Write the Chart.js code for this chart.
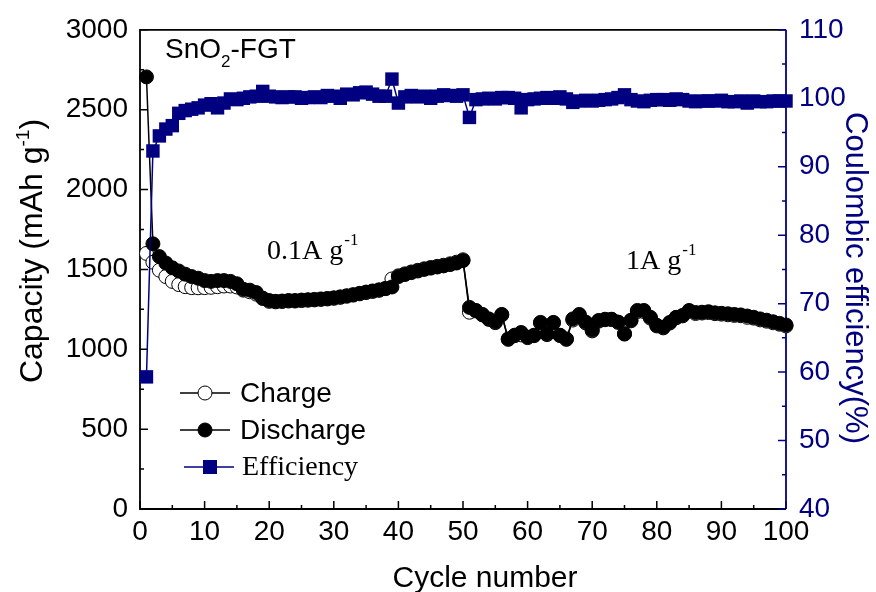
<!DOCTYPE html>
<html>
<head>
<meta charset="utf-8">
<script src="https://cdn.jsdelivr.net/npm/chart.js@4/dist/chart.umd.min.js"></script>
<style>
  html, body { margin: 0; padding: 0; background: #fff; }
  #wrap { width: 876px; height: 592px; }
</style>
</head>
<body>
<div id="wrap"><canvas id="c" width="876" height="592"></canvas></div>
<script>
// Cycle index (1 … 100)
const cycles = Array.from({ length: 100 }, (_, i) => i + 1);

// Charge capacity, mAh g-1
const charge = [
  1600, 1545, 1495, 1455, 1425, 1405, 1392, 1386, 1385, 1386,
  1388, 1392, 1396, 1396, 1390, 1370, 1360, 1345, 1318, 1300,
  1297, 1299, 1302, 1302, 1305, 1307, 1309, 1312, 1315, 1319,
  1325, 1332, 1339, 1347, 1355, 1362, 1369, 1380, 1440, 1460,
  1472, 1484, 1494, 1504, 1512, 1519, 1526, 1535, 1545, 1560,
  1232, 1240, 1215, 1187, 1167, 1215, 1062, 1085, 1090, 1073,
  1085, 1165, 1092, 1165, 1086, 1062, 1183, 1212, 1165, 1115,
  1176, 1185, 1186, 1169, 1098, 1178, 1236, 1236, 1195, 1146,
  1134, 1164, 1197, 1209, 1238, 1224, 1227, 1230, 1223, 1220,
  1216, 1212, 1210, 1200, 1195, 1184, 1176, 1166, 1157, 1146
];

// Discharge capacity, mAh g-1
const discharge = [
  2705, 1660, 1580, 1540, 1510, 1490, 1470, 1455, 1445, 1430,
  1425, 1430, 1430, 1425, 1410, 1375, 1370, 1355, 1320, 1305,
  1300, 1302, 1305, 1305, 1308, 1310, 1312, 1315, 1318, 1322,
  1328, 1335, 1342, 1350, 1358, 1365, 1372, 1380, 1390, 1455,
  1468, 1480, 1490, 1500, 1508, 1515, 1522, 1530, 1540, 1555,
  1262, 1243, 1218, 1190, 1170, 1218, 1065, 1088, 1105, 1076,
  1088, 1168, 1095, 1168, 1088, 1065, 1190, 1218, 1170, 1120,
  1180, 1188, 1188, 1170, 1095, 1182, 1243, 1243, 1200, 1150,
  1138, 1168, 1200, 1212, 1243, 1230, 1232, 1235, 1228, 1225,
  1222, 1218, 1215, 1208, 1200, 1190, 1182, 1172, 1162, 1152
];

// Coulombic efficiency, %
const efficiency = [
  59.3, 92.3, 94.5, 95.5, 96.0, 97.8, 98.2, 98.4, 98.6, 99.0,
  99.2, 98.6, 99.3, 99.9, 99.8, 100.0, 100.2, 100.3, 101.0, 100.3,
  100.2, 100.1, 100.2, 100.2, 100.0, 100.1, 100.2, 100.1, 100.4, 100.3,
  100.0, 100.6, 100.5, 100.8, 100.9, 100.6, 100.3, 100.3, 102.8, 99.3,
  100.2, 100.4, 100.2, 100.3, 100.0, 100.3, 100.5, 100.4, 100.3, 100.5,
  97.2, 99.8, 99.9, 100.0, 99.9, 100.1, 100.1, 100.0, 98.6, 99.8,
  99.9, 100.0, 100.1, 100.0, 100.2, 99.9, 99.4, 99.6, 99.7, 99.6,
  99.7, 99.8, 99.9, 100.1, 100.5, 99.8, 99.6, 99.5, 99.7, 99.8,
  99.8, 99.7, 99.9, 99.8, 99.6, 99.5, 99.6, 99.6, 99.6, 99.7,
  99.5, 99.5, 99.6, 99.3, 99.6, 99.5, 99.5, 99.6, 99.6, 99.6
];

// Axis ticks
const xTicks = [0, 10, 20, 30, 40, 50, 60, 70, 80, 90, 100];
const capTicks = [0, 500, 1000, 1500, 2000, 2500, 3000];
const effTicks = [40, 50, 60, 70, 80, 90, 100, 110];

const NAVY = '#000080';
const SANS = "'Liberation Sans', Arial, sans-serif";
const SERIF = "'Liberation Serif', 'Times New Roman', serif";

const pts = (ys) => cycles.map((c, i) => ({ x: c, y: ys[i] }));

// Frame, inward tick marks (major + minor), titles, notes and legend
const framePlugin = {
  id: 'frame',
  beforeDatasetsDraw(chart) {
    const { ctx, chartArea: a, scales } = chart;
    const sx = scales.x, sl = scales.y, sr = scales.y1;
    ctx.save();
    ctx.lineCap = 'butt';
    ctx.lineWidth = 1.8;
    ctx.strokeStyle = '#000';
    ctx.beginPath();
    ctx.moveTo(a.right, a.top); ctx.lineTo(a.left, a.top);
    ctx.lineTo(a.left, a.bottom); ctx.lineTo(a.right, a.bottom);
    ctx.stroke();

    ctx.lineWidth = 1.5;
    ctx.beginPath();
    for (let v = 0; v <= 100; v += 5) {
      const px = sx.getPixelForValue(v);
      const len = v % 10 === 0 ? 8 : 4;
      ctx.moveTo(px, a.bottom); ctx.lineTo(px, a.bottom - len);
    }
    for (let v = 0; v <= 3000; v += 250) {
      const py = sl.getPixelForValue(v);
      const len = v % 500 === 0 ? 8 : 4;
      ctx.moveTo(a.left, py); ctx.lineTo(a.left + len, py);
    }
    ctx.stroke();

    ctx.strokeStyle = NAVY;
    ctx.lineWidth = 1.8;
    ctx.beginPath();
    ctx.moveTo(a.right, a.top); ctx.lineTo(a.right, a.bottom);
    ctx.stroke();
    ctx.lineWidth = 1.5;
    ctx.beginPath();
    for (let v = 40; v <= 110; v += 5) {
      const py = sr.getPixelForValue(v);
      const len = v % 10 === 0 ? 8 : 4;
      ctx.moveTo(a.right, py); ctx.lineTo(a.right - len, py);
    }
    ctx.stroke();
    ctx.restore();
  },
  afterDraw(chart) {
    const { ctx } = chart;
    ctx.save();
    ctx.textBaseline = 'alphabetic';

    // Bottom title
    ctx.fillStyle = '#000';
    ctx.font = `30px ${SANS}`;
    ctx.textAlign = 'center';
    ctx.fillText('Cycle number', 485, 587);

    // Left title with superscript
    ctx.save();
    ctx.translate(42, 251);
    ctx.rotate(-Math.PI / 2);
    const t1 = 'Capacity (mAh g', sup = '-1', t2 = ')';
    ctx.font = `32px ${SANS}`;
    const w1 = ctx.measureText(t1).width;
    const w3 = ctx.measureText(t2).width;
    ctx.font = `19px ${SANS}`;
    const w2 = ctx.measureText(sup).width;
    const x0 = -(w1 + w2 + w3) / 2;
    ctx.textAlign = 'left';
    ctx.font = `32px ${SANS}`;
    ctx.fillText(t1, x0, 0);
    ctx.font = `19px ${SANS}`;
    ctx.fillText(sup, x0 + w1, -13);
    ctx.font = `32px ${SANS}`;
    ctx.fillText(t2, x0 + w1 + w2, 0);
    ctx.restore();

    // Right title
    ctx.save();
    ctx.translate(846, 278);
    ctx.rotate(Math.PI / 2);
    ctx.fillStyle = NAVY;
    ctx.font = `31px ${SANS}`;
    ctx.textAlign = 'center';
    ctx.fillText('Coulombic efficiency(%)', 0, 0);
    ctx.restore();

    // Sample name
    ctx.fillStyle = '#000';
    ctx.textAlign = 'left';
    ctx.font = `28px ${SANS}`;
    let x = 165;
    ctx.fillText('SnO', x, 58); x += ctx.measureText('SnO').width;
    ctx.font = `17px ${SANS}`;
    ctx.fillText('2', x, 67); x += ctx.measureText('2').width;
    ctx.font = `28px ${SANS}`;
    ctx.fillText('-FGT', x, 58);

    // Current density notes
    const note = (main, xx, yy) => {
      ctx.font = `28px ${SERIF}`;
      ctx.fillText(main, xx, yy);
      const w = ctx.measureText(main).width;
      ctx.font = `17px ${SERIF}`;
      ctx.fillText('-1', xx + w + 1, yy - 14);
    };
    note('0.1A g', 267, 259);
    note('1A g', 626, 269);

    // Legend
    const items = [
      { label: 'Charge', y: 393, font: `28px ${SANS}`, color: '#000', fill: '#fff', shape: 'circle', x1: 180, x2: 230, mx: 205, tx: 240 },
      { label: 'Discharge', y: 430, font: `28px ${SANS}`, color: '#000', fill: '#000', shape: 'circle', x1: 180, x2: 230, mx: 205, tx: 240 },
      { label: 'Efficiency', y: 467, font: `28px ${SERIF}`, color: NAVY, fill: NAVY, shape: 'rect', x1: 184, x2: 234, mx: 210, tx: 242 }
    ];
    items.forEach(it => {
      ctx.strokeStyle = it.color;
      ctx.lineWidth = 1.5;
      ctx.beginPath(); ctx.moveTo(it.x1, it.y); ctx.lineTo(it.x2, it.y); ctx.stroke();
      ctx.fillStyle = it.fill;
      ctx.lineWidth = 1;
      if (it.shape === 'circle') {
        ctx.beginPath(); ctx.arc(it.mx, it.y, 7, 0, Math.PI * 2); ctx.fill(); ctx.stroke();
      } else {
        ctx.fillRect(it.mx - 7, it.y - 7, 14, 14);
      }
      ctx.fillStyle = '#000';
      ctx.font = it.font;
      ctx.textBaseline = 'middle';
      ctx.fillText(it.label, it.tx, it.y + 1);
      ctx.textBaseline = 'alphabetic';
    });
    ctx.restore();
  }
};

new Chart(document.getElementById('c'), {
  type: 'line',
  data: {
    datasets: [
      {
        label: 'Efficiency', data: pts(efficiency), yAxisID: 'y1', order: 0,
        borderColor: NAVY, backgroundColor: NAVY, borderWidth: 1.5,
        pointStyle: 'rect', pointRadius: 9.5, pointBorderWidth: 0, clip: false
      },
      {
        label: 'Discharge', data: pts(discharge), yAxisID: 'y', order: 1,
        borderColor: '#000', backgroundColor: '#000', borderWidth: 1.5,
        pointRadius: 7, pointBorderWidth: 1, pointBorderColor: '#000', clip: false
      },
      {
        label: 'Charge', data: pts(charge), yAxisID: 'y', order: 2,
        borderColor: '#000', backgroundColor: '#fff', borderWidth: 1.5,
        pointRadius: 7, pointBorderWidth: 1, pointBorderColor: '#000',
        pointBackgroundColor: '#fff', clip: false
      }
    ]
  },
  options: {
    responsive: false,
    animation: false,
    devicePixelRatio: 1,
    layout: { padding: { top: 24, left: 0, right: 0, bottom: 0 } },
    plugins: { legend: { display: false }, tooltip: { enabled: false } },
    elements: { line: { tension: 0 } },
    scales: {
      x: {
        type: 'linear', min: 0, max: 100,
        afterBuildTicks: s => { s.ticks = xTicks.map(v => ({ value: v })); },
        afterFit: s => { s.height = 83; },
        grid: { display: false, drawTicks: false }, border: { display: false },
        ticks: { color: '#000', font: { family: SANS, size: 28 }, padding: 6, maxRotation: 0, autoSkip: false, callback: v => String(v) }
      },
      y: {
        type: 'linear', position: 'left', min: 0, max: 3000,
        afterBuildTicks: s => { s.ticks = capTicks.map(v => ({ value: v })); },
        afterFit: s => { s.width = 140; },
        grid: { display: false, drawTicks: false }, border: { display: false },
        ticks: { color: '#000', font: { family: SANS, size: 28 }, padding: 12, callback: v => String(v) }
      },
      y1: {
        type: 'linear', position: 'right', min: 40, max: 110,
        afterBuildTicks: s => { s.ticks = effTicks.map(v => ({ value: v })); },
        afterFit: s => { s.width = 90; },
        grid: { display: false, drawTicks: false }, border: { display: false },
        ticks: { color: NAVY, font: { family: SANS, size: 28 }, padding: 13, callback: v => String(v) }
      }
    }
  },
  plugins: [framePlugin]
});
</script>
</body>
</html>
